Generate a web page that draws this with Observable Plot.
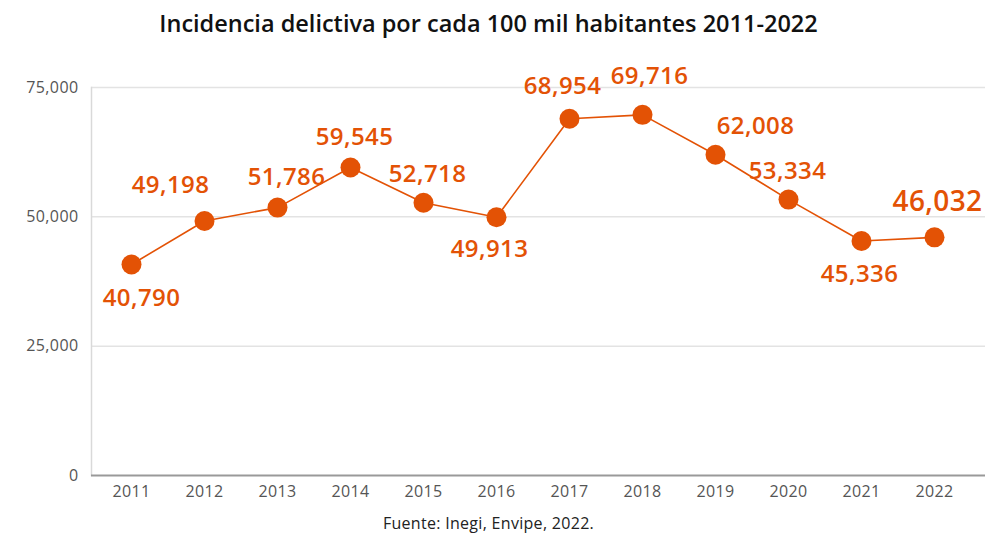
<!DOCTYPE html>
<html><head><meta charset="utf-8">
<script src="https://cdn.jsdelivr.net/npm/d3@7"></script>
<script src="https://cdn.jsdelivr.net/npm/@observablehq/plot@0.6"></script>
<style>
body{margin:0;background:#fff;font-family:"Open Sans",sans-serif;}
#title{height:44px;line-height:46px;text-align:center;font-size:23.5px;font-weight:600;color:#111;width:989px;box-sizing:border-box;padding-right:12px}
#cap{text-align:center;font-size:16px;letter-spacing:0.3px;color:#222;width:989px;padding-right:12px;box-sizing:border-box;margin-top:-2px}
</style></head>
<body>
<div id="title">Incidencia delictiva por cada 100 mil habitantes 2011-2022</div>
<div id="chart"></div>
<div id="cap">Fuente: Inegi, Envipe, 2022.</div>
<script>
const years = ["2011","2012","2013","2014","2015","2016","2017","2018","2019","2020","2021","2022"];
const values = [40790,49198,51786,59545,52718,49913,68954,69716,62008,53334,45336,46032];
const yTicks = [0,25000,50000,75000];
const labelOffsets = [[10,34],[-34,-36],[9,-30],[4,-30],[4,-28],[-7,32],[-7,-32],[7,-39],[40,-28],[-1,-28],[-2,33],[3,-35]];

const data = years.map((y,i)=>({year:y,value:values[i]}));
const orange = "#e35205";
const fmt = d3.format(",");

const labelMarks = data.map((d,i)=>Plot.text([d],{
  x:"year", y:"value", text:dd=>fmt(dd.value),
  dx:labelOffsets[i][0], dy:labelOffsets[i][1],
  fill:orange, fontSize: i===11 ? 28 : 24, fontWeight:600
}));

const chart = Plot.plot({
  width:989, height:470,
  marginLeft:91, marginRight:4, marginTop:43, marginBottom:39,
  style:{fontFamily:"'Open Sans', sans-serif", fontSize:"16px", color:"#555", letterSpacing:"0.4px"},
  x:{type:"point", domain:years, padding:0.5, insetRight:12, label:null, tickSize:0, tickPadding:10},
  y:{domain:[0,75000], ticks:yTicks, tickFormat:d3.format(","), label:null, tickSize:0, tickPadding:13},
  marks:[
    Plot.ruleY(yTicks.filter(t=>t>0),{stroke:"#e3e3e3", strokeWidth:1.5}),
    Plot.frame({anchor:"left", stroke:"#d9d9d9", strokeWidth:1.5}),
    Plot.ruleY([0],{stroke:"#999", strokeWidth:2}),
    Plot.line(data,{x:"year", y:"value", stroke:orange, strokeWidth:1.6}),
    Plot.dot(data,{x:"year", y:"value", r:10, fill:orange}),
    ...labelMarks
  ]
});
document.getElementById("chart").appendChild(chart);
</script>
</body></html>
